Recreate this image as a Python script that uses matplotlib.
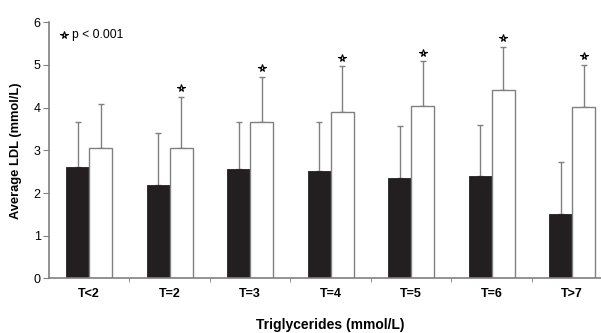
import matplotlib.pyplot as plt
import numpy as np

plt.rcParams['font.family'] = ['Liberation Sans', 'DejaVu Sans']

groups = ['T<2', 'T=2', 'T=3', 'T=4', 'T=5', 'T=6', 'T>7']
black_vals = [2.61, 2.19, 2.56, 2.51, 2.35, 2.40, 1.51]
black_err = [1.05, 1.22, 1.10, 1.16, 1.22, 1.19, 1.22]
white_vals = [3.05, 3.06, 3.67, 3.89, 4.03, 4.42, 4.01]
white_err = [1.03, 1.20, 1.05, 1.08, 1.06, 1.01, 0.99]
significant = [False, True, True, True, True, True, True]

grey = '#808080'
fig = plt.figure(figsize=(6.01, 3.33), dpi=100)
ax = fig.add_axes([0.0815, 0.164, 0.9376, 0.769])

x = np.arange(len(groups)) + 0.5
w = 0.286
ax.bar(x - w / 2, black_vals, w, color='#231f20', edgecolor='#231f20', linewidth=0.6, zorder=2)
ax.bar(x + w / 2, white_vals, w, color='white', edgecolor=grey, linewidth=1.0, zorder=2)
ax.errorbar(x - w / 2, black_vals, yerr=[np.zeros(len(groups)), black_err], fmt='none',
            ecolor=grey, elinewidth=1.0, capsize=2.5, capthick=1.0, zorder=1)
ax.errorbar(x + w / 2, white_vals, yerr=[np.zeros(len(groups)), white_err], fmt='none',
            ecolor=grey, elinewidth=1.0, capsize=2.5, capthick=1.0, zorder=1)

star = dict(marker='*', markerfacecolor='#dddddd', markeredgecolor='black',
            markeredgewidth=0.8, markersize=5.5, linestyle='none')
for xi, v, e, s in zip(x, white_vals, white_err, significant):
    if s:
        ax.plot(xi + w / 2, v + e + 0.2, zorder=3, **star)

ax.plot(0.186, 5.70, clip_on=False, **star)
ax.text(0.29, 5.70, 'p < 0.001', fontsize=8.7, va='center', ha='left')

ax.set_xlim(0, 7)
ax.set_ylim(0, 6)
ax.set_yticks(range(7))
ax.set_xticks(x)
ax.set_xticklabels(groups, fontweight='bold', fontsize=9)
ax.set_xticks(np.arange(1, 7), minor=True)
ax.tick_params(axis='x', which='major', length=0, pad=7)
ax.tick_params(axis='x', which='minor', length=3, color=grey, direction='out')
ax.tick_params(axis='y', length=4, color=grey, labelsize=9, pad=2)

for side in ['top', 'right']:
    ax.spines[side].set_visible(False)
for side in ['left', 'bottom']:
    ax.spines[side].set_color(grey)
    ax.spines[side].set_linewidth(1.2)

fig.text(0.026, 0.547, 'Average LDL (mmol/L)', fontweight='bold', fontsize=9.3,
         rotation=90, ha='center', va='center')
fig.text(0.549, 0.024, 'Triglycerides (mmol/L)', fontweight='bold', fontsize=10,
         ha='center', va='center')

fig.savefig('out.png', dpi=100)
